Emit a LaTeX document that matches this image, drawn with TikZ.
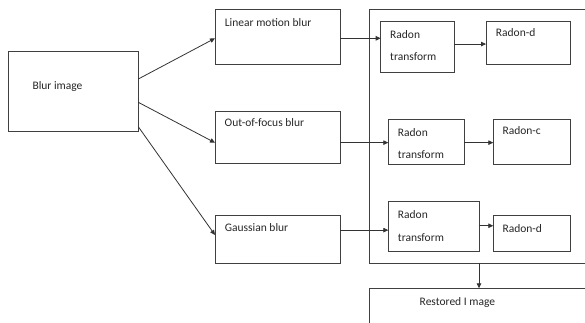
\documentclass[tikz,border=0pt]{standalone}
\usepackage{fontspec}
\setmainfont{Carlito}
\usetikzlibrary{arrows.meta,fit}
\begin{document}
\begin{tikzpicture}[x=1pt,y=-1pt,
  box/.style={draw=black!75, line width=0.8pt, inner sep=0pt, outer sep=0pt},
  txt/.style={inner sep=0pt, anchor=base west, text=black!85, font=\fontsize{11.5}{13}\selectfont},
  arr/.style={draw=black!80, line width=0.8pt, -{Triangle[length=5pt,width=4.5pt]}}]
\useasboundingbox (0,0) rectangle (585,322);
\clip (0,0) rectangle (585,322);
% boxes
\node[box, fit={(8.3,51)(138.3,131.7)}] (blur) {};
\node[box, fit={(215,9.3)(340,64.3)}] (lin) {};
\node[box, fit={(215,111)(340,163.3)}] (oof) {};
\node[box, fit={(215,215)(340,263.3)}] (gau) {};
\node[box, fit={(369.3,9.3)(600,263.3)}] (cont) {};
\node[box, fit={(380.7,21)(454.3,72.3)}] (rt1) {};
\node[box, fit={(486,21)(570,64.3)}] (rd1) {};
\node[box, fit={(388.3,119.3)(464.3,164)}] (rt2) {};
\node[box, fit={(493.3,119.3)(570,164)}] (rc2) {};
\node[box, fit={(388.3,201)(479,251.7)}] (rt3) {};
\node[box, fit={(493.3,215)(570,251.7)}] (rd3) {};
\node[box, fit={(369.3,288.3)(600,340)}] (rest) {};
% texts
\node[txt] (tblur) at (32.3,89) {Blur image};
\node[txt] (tlin) at (224.7,26) {Linear motion blur};
\node[txt] (toof) at (224.5,126.7) {Out-of-focus blur};
\node[txt] (tgau) at (224.7,231.7) {Gaussian blur};
\node[txt] (tr1a) at (390,38.3) {Radon};
\node[txt] (tr1b) at (390,60) {transform};
\node[txt] (td1) at (495.7,36.7) {Radon-d};
\node[txt] (tr2a) at (397.7,136) {Radon};
\node[txt] (tr2b) at (397.7,158.3) {transform};
\node[txt] (tc2) at (502.3,134.3) {Radon-c};
\node[txt] (tr3a) at (397.7,218.7) {Radon};
\node[txt] (tr3b) at (397.7,241) {transform};
\node[txt] (td3) at (502.3,232.3) {Radon-d};
\node[txt] (trest) at (419.5,305) {Restored I mage};
% arrows
\draw[arr] ([yshift=12.35pt]blur.east) -- ([yshift=-1.5pt]lin.west);
\draw[arr] ([yshift=-10.95pt]blur.east) -- ([yshift=-5.55pt]oof.west);
\draw[arr] ([yshift=-35.35pt]blur.east) -- ([yshift=4.15pt]gau.west);
\draw[arr] ([yshift=-1.5pt]lin.east) -- ([yshift=-1.5pt]lin.east -| rt1.west);
\draw[arr] ([yshift=-5.5pt]oof.east) -- ([yshift=-5.5pt]oof.east -| rt2.west);
\draw[arr] ([yshift=9pt]gau.east) -- ([yshift=9pt]gau.east -| rt3.west);
\draw[arr] ([yshift=2.6pt]rt1.east) -- ([yshift=2.6pt]rt1.east -| rd1.west);
\draw[arr] ([yshift=-1pt]rt2.east) -- ([yshift=-1pt]rt2.east -| rc2.west);
\draw[arr] ([yshift=0.6pt]rt3.east) -- ([yshift=0.6pt]rt3.east -| rd3.west);
\draw[arr] (cont.south -| rt3.east) -- (rest.north -| rt3.east);
\end{tikzpicture}
\end{document}
